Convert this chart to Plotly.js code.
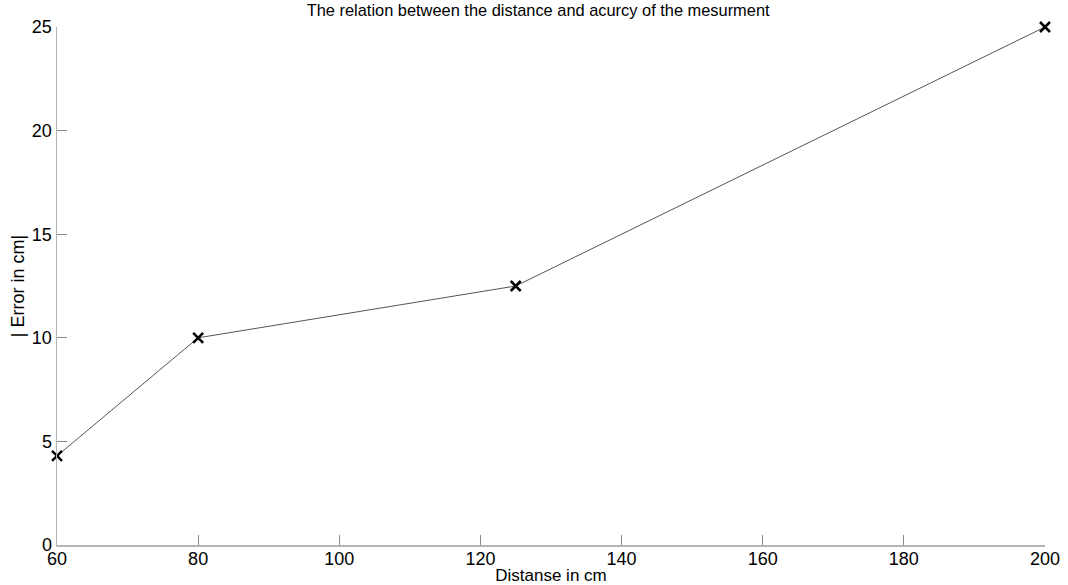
<!DOCTYPE html>
<html>
<head>
<meta charset="utf-8">
<script src="https://cdn.plot.ly/plotly-3.0.1.min.js"></script>
<style>html,body{margin:0;padding:0;background:#fff;}#chart{width:1068px;height:585px;}</style>
</head>
<body>
<div id="chart"></div>
<script>
const distance = [60, 80, 125, 200];
const errorCm = [4.3, 10, 12.5, 25];
const xTicks = [60, 80, 100, 120, 140, 160, 180, 200];
const yTicks = [0, 5, 10, 15, 20, 25];

const font = "Liberation Sans, Arial, Helvetica, sans-serif";

const trace = {
  x: distance,
  y: errorCm,
  type: 'scatter',
  mode: 'lines+markers',
  line: {color: '#555555', width: 1},
  marker: {symbol: 'x-thin-open', size: 10, color: '#000000', line: {color: '#000000', width: 2.5}},
  cliponaxis: false,
  showlegend: false
};

const layout = {
  width: 1068,
  height: 585,
  margin: {l: 56.5, r: 23, t: 26.5, b: 40},
  paper_bgcolor: '#ffffff',
  plot_bgcolor: '#ffffff',
  font: {family: font, color: '#000000'},
  title: {
    text: 'The relation between the distance and acurcy of the mesurment',
    font: {family: font, size: 16.4, color: '#000000'},
    xref: 'paper', x: 0.487, xanchor: 'center', yref: 'container', y: 0.982, yanchor: 'middle'
  },
  xaxis: {
    range: [60, 200],
    tickvals: xTicks,
    ticktext: xTicks.map(String),
    ticks: 'inside',
    ticklen: 10,
    tickcolor: '#8a8a8a',
    tickwidth: 1,
    showline: true,
    linecolor: '#b5b5b5',
    linewidth: 1.5,
    showgrid: false,
    zeroline: false,
    tickfont: {family: font, size: 18, color: '#000000'},
    ticklabelstandoff: -3,
    title: {text: 'Distanse in cm', font: {family: font, size: 17, color: '#000000'}, standoff: 3}
  },
  yaxis: {
    range: [0, 25],
    tickvals: yTicks,
    ticktext: yTicks.map(String),
    ticks: 'inside',
    ticklen: 10,
    tickcolor: '#8a8a8a',
    tickwidth: 1,
    showline: true,
    linecolor: '#b5b5b5',
    linewidth: 1.5,
    showgrid: false,
    zeroline: false,
    tickfont: {family: font, size: 18, color: '#000000'},
    ticklabelstandoff: 0,
    title: {text: '| Error in cm|', font: {family: font, size: 18, color: '#000000'}, standoff: 2}
  }
};

Plotly.newPlot('chart', [trace], layout, {displayModeBar: false, staticPlot: true});
</script>
</body>
</html>
